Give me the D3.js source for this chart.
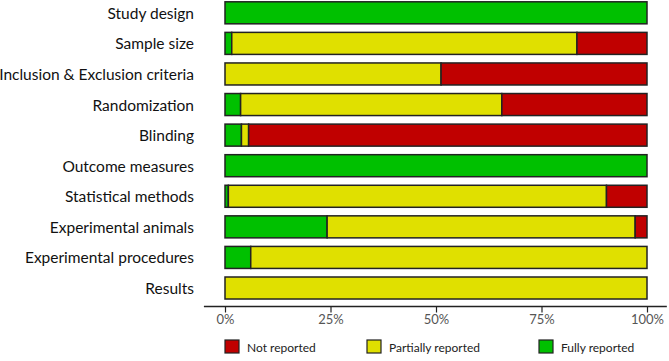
<!DOCTYPE html>
<html><head><meta charset="utf-8">
<script src="https://cdn.jsdelivr.net/npm/d3@7"></script>
<style>body{margin:0;background:#fff}svg{display:block}</style>
</head><body>
<script>
const categories = ["Study design","Sample size","Inclusion & Exclusion criteria","Randomization","Blinding","Outcome measures","Statistical methods","Experimental animals","Experimental procedures","Results"];
const fully     = [100, 1.6, 0,   3.7, 3.9, 100, 0.8, 24.2, 6.1, 0];
const partially = [0,  81.8, 51.2, 61.9, 1.7, 0,  89.6, 73.0, 93.9, 100];
const notRep    = [0,  16.6, 48.8, 34.4, 94.4, 0, 9.6, 2.8, 0, 0];
const seriesNames = ["Fully reported","Partially reported","Not reported"];
const legendOrder = ["Not reported","Partially reported","Fully reported"];
const colors = {"Fully reported":"#00C000","Partially reported":"#E0E000","Not reported":"#C00000"};
const tickValues = [0,25,50,75,100];

const W=669,H=361;
const svg=d3.select("body").append("svg").attr("width",W).attr("height",H);
const x=d3.scaleLinear().domain([0,100]).range([225,647]);
const y=d3.scaleBand().domain(categories).range([-2.48,303.3]).paddingInner(0.28).paddingOuter(0.14);

const rows=categories.map((c,i)=>({cat:c,"Fully reported":fully[i],"Partially reported":partially[i],"Not reported":notRep[i]}));
const stack=d3.stack().keys(seriesNames)(rows);

svg.append("g").selectAll("g").data(stack).join("g")
  .attr("fill",d=>colors[d.key])
  .selectAll("rect").data(d=>d.filter(p=>p[1]-p[0]>0)).join("rect")
  .attr("x",d=>x(d[0])).attr("width",d=>x(d[1])-x(d[0]))
  .attr("y",d=>y(d.data.cat)).attr("height",y.bandwidth())
  .attr("stroke","#222").attr("stroke-width",1.5);

// category labels
svg.append("g").selectAll("text").data(categories).join("text")
  .attr("x",194).attr("y",d=>y(d)+y.bandwidth()/2)
  .attr("text-anchor","end").attr("dominant-baseline","central")
  .attr("font-family","Lato, 'Open Sans', sans-serif").attr("font-size",15.5).attr("fill","#111")
  .text(d=>d);

// axis
const axisG=svg.append("g").attr("transform","translate(0,306.5)")
  .call(d3.axisBottom(x).tickValues(tickValues).tickFormat(d=>d+"%").tickSize(6).tickSizeOuter(0).tickPadding(2));
axisG.select(".domain").remove();
axisG.append("line").attr("x1",x(-5)).attr("x2",x(104.7)).attr("stroke","#222").attr("stroke-width",1.5);
axisG.selectAll(".tick line").attr("stroke","#222").attr("stroke-width",1.2);
axisG.selectAll(".tick text").attr("font-family","Lato, 'Open Sans', sans-serif").attr("font-size",13).attr("fill","#555");

// legend
const legX={"Not reported":225,"Partially reported":367,"Fully reported":539};
const lg=svg.append("g").selectAll("g").data(legendOrder).join("g")
  .attr("transform",d=>`translate(${legX[d]},340)`);
lg.append("rect").attr("width",14).attr("height",13).attr("fill",d=>colors[d]).attr("stroke","#222").attr("stroke-width",1.2);
lg.append("text").attr("x",22).attr("y",7).attr("dominant-baseline","central")
  .attr("font-family","Lato, 'Open Sans', sans-serif").attr("font-size",12).attr("fill","#222").text(d=>d);
</script>
</body></html>
